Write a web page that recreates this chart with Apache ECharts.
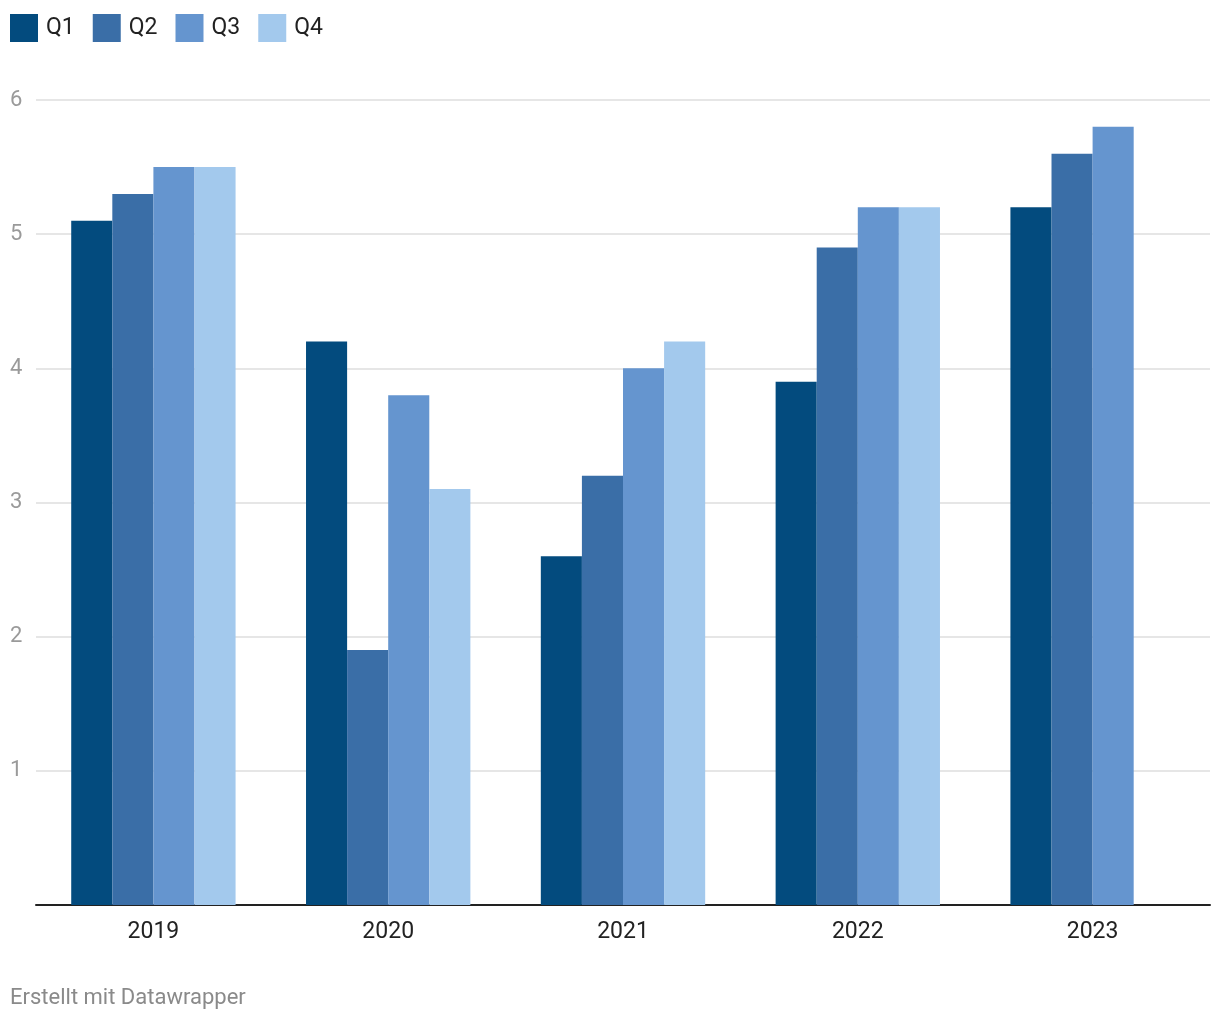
<!DOCTYPE html>
<html>
<head>
<meta charset="utf-8">
<script src="https://cdn.jsdelivr.net/npm/echarts@6/dist/echarts.min.js"></script>
<style>
html,body{margin:0;padding:0;background:#fff;}
#c{width:1220px;height:1020px;}
</style>
</head>
<body>
<div id="c"></div>
<script>
const categories = ['2019', '2020', '2021', '2022', '2023'];
const q1 = [5.1, 4.2, 2.6, 3.9, 5.2];
const q2 = [5.3, 1.9, 3.2, 4.9, 5.6];
const q3 = [5.5, 3.8, 4.0, 5.2, 5.8];
const q4 = [5.5, 3.1, 4.2, 5.2, null];
const seriesNames = ['Q1', 'Q2', 'Q3', 'Q4'];
const colors = ['#034b7e', '#3a6ea7', '#6595cf', '#a3c9ed'];
const yTicks = [0, 1, 2, 3, 4, 5, 6];

const chart = echarts.init(document.getElementById('c'));
const data = [q1, q2, q3, q4];
chart.setOption({
  animation: false,
  textStyle: { fontFamily: 'Roboto' },
  legend: {
    left: 10, top: 14, padding: 0,
    itemWidth: 28, itemHeight: 28, itemGap: 18,
    icon: 'rect',
    textStyle: { fontSize: 23, color: '#222', fontFamily: 'Roboto', padding: [0, 0, 0, 3] },
    data: seriesNames
  },
  grid: { left: 36, right: 10, top: 100, bottom: 115 },
  xAxis: {
    type: 'category',
    data: categories,
    axisLine: { show: true, lineStyle: { color: '#222', width: 2 } },
    axisTick: { show: false },
    axisLabel: { fontSize: 23, color: '#222', margin: 16, fontFamily: 'Roboto' }
  },
  yAxis: {
    type: 'value',
    min: 0, max: 6, interval: 1,
    axisLine: { show: false },
    axisTick: { show: false },
    splitLine: { lineStyle: { color: '#e6e6e6', width: 2 } },
    axisLabel: {
      fontSize: 22, color: '#9a9a9a', align: 'left', margin: 26, fontFamily: 'Roboto',
      formatter: v => v === 0 ? '' : String(v)
    }
  },
  graphic: [{
    type: 'text', left: 10, top: 987,
    style: { text: 'Erstellt mit Datawrapper', fontSize: 22, fill: '#8a8a8a', fontFamily: 'Roboto' }
  }],
  series: seriesNames.map((n, i) => ({
    name: n, type: 'bar', data: data[i],
    itemStyle: { color: colors[i] },
    barGap: '0%', barCategoryGap: '30%'
  }))
});
</script>
</body>
</html>
